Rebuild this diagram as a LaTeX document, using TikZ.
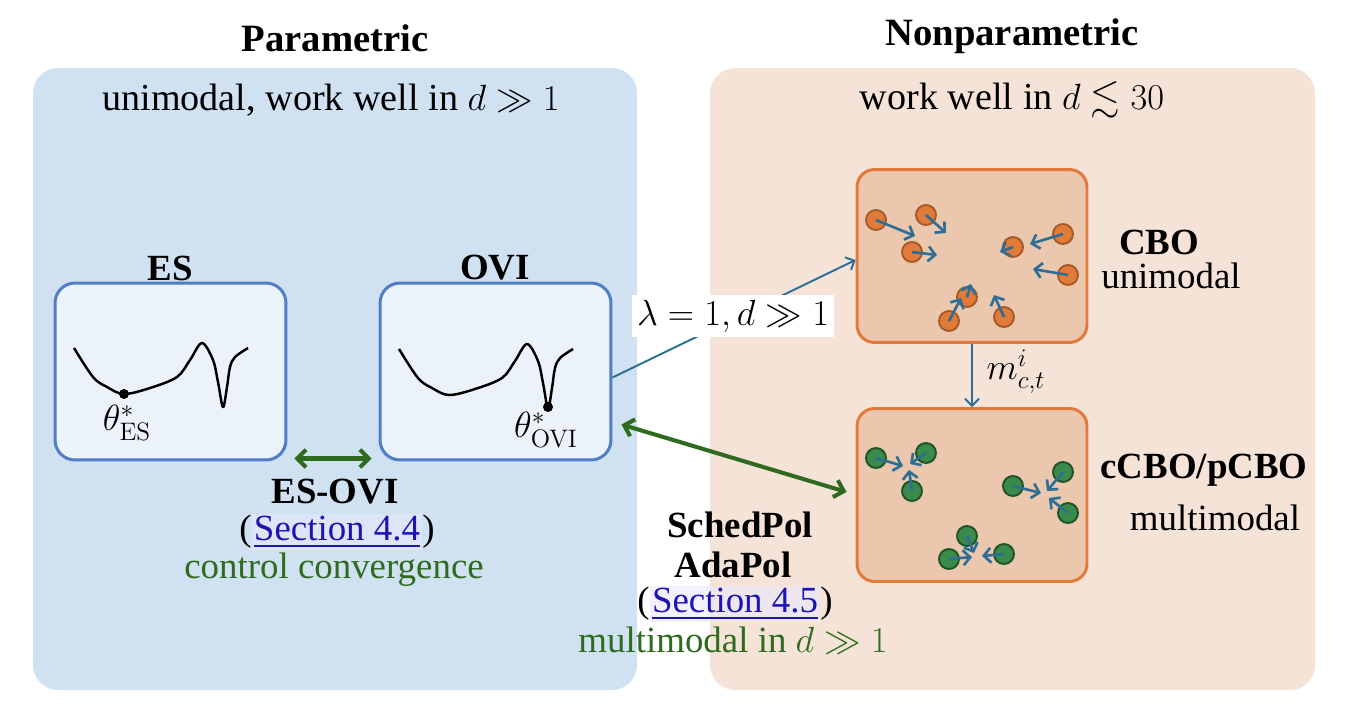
\documentclass[tikz,border=0pt]{standalone}
\usepackage{amssymb}
\usepackage[no-math]{fontspec}
\setmainfont{Liberation Serif}
\usetikzlibrary{arrows.meta}
\definecolor{pbg}{HTML}{D0E1F1}
\definecolor{obg}{HTML}{F5E3D7}
\definecolor{bbox}{HTML}{EBF2F9}
\definecolor{bbord}{HTML}{4F7EC6}
\definecolor{obox}{HTML}{EBC7AE}
\definecolor{obord}{HTML}{E07B3C}
\definecolor{conn}{HTML}{2E6E94}
\definecolor{grn}{HTML}{2E6B1E}
\definecolor{pOfill}{HTML}{E07B39}
\definecolor{pOdraw}{HTML}{A65A2A}
\definecolor{pGfill}{HTML}{3A8A4C}
\definecolor{pGdraw}{HTML}{1E5428}
\definecolor{linkc}{HTML}{1E14B0}
\definecolor{hl}{HTML}{E8E8FF}
\begin{document}
\begin{tikzpicture}[x=0.02cm,y=-0.02cm,
  font=\fontsize{21}{25}\selectfont,
  panel/.style={rounded corners=0.5cm},
  bluebox/.style={draw=bbord, fill=bbox, line width=1.7pt, rounded corners=0.4cm,
    minimum width=4.62cm, minimum height=3.54cm, inner sep=0pt},
  orangebox/.style={draw=obord, fill=obox, line width=1.7pt, rounded corners=0.35cm,
    minimum width=4.6cm, minimum height=3.46cm, inner sep=0pt},
  title/.style={font=\fontsize{22}{26}\selectfont\bfseries},
  bold/.style={font=\fontsize{21}{25}\selectfont\bfseries},
  sub/.style={font=\fontsize{21.7}{26}\selectfont},
  conarrow/.style={draw=conn, line width=1.1pt, -{Straight Barb[length=4pt,width=8pt]}},
  garrow/.style={draw=grn, line width=2.3pt,
    {Straight Barb[length=5pt,width=10pt]}-{Straight Barb[length=5pt,width=10pt]}},
  pO/.style={circle, fill=pOfill, draw=pOdraw, line width=1.1pt, minimum size=0.4cm, inner sep=0pt},
  pG/.style={circle, fill=pGfill, draw=pGdraw, line width=1.1pt, minimum size=0.4cm, inner sep=0pt},
  parrow/.style={draw=conn, line width=1.5pt, -{Straight Barb[length=4pt,width=8.5pt]}},
  seclink/.style={fill=hl, fill opacity=0.6, text opacity=1, text=linkc, inner sep=1pt},
  curve/.style={line width=1.4pt, line join=round}
]
\useasboundingbox (0,0) rectangle (1348,714);
% panels
\fill[pbg, panel] (33,68) rectangle (637,690);
\fill[obg, panel] (710,68) rectangle (1315,690);
% titles
\node[title] (tpar) at (335,38) {Parametric};
\node[title] (tnon) at (1012,36) {Nonparametric};
\node[sub] (spar) at (331,100) {unimodal, work well in $d\gg 1$};
\node[sub] (snon) at (1012,100) {work well in $d\lesssim 30$};
% ES / OVI boxes
\node[bluebox] (es) at (170.5,371.5) {};
\node[bluebox] (ovi) at (495.5,371.5) {};
\node[bold] (esl) at (170,268) {ES};
\node[bold] (ovil) at (495,268) {OVI};
\foreach \dx/\dy in {0/0, 325/1}{
  \draw[curve, shift={(\dx,\dy)}] plot[smooth, tension=0.55] coordinates {
    (74,348) (93,377) (107,387) (124,394) (150,388) (177,377) (190,360) (202,343)
    (213,360) (218,382) (223,407) (227,387) (230,367) (235,357) (248,348)};
}
\fill (124,394) circle (0.1cm);
\fill (548,407) circle (0.1cm);
\node (thes) at (127,423) {$\theta^*_{\mathrm{ES}}$};
\node (thovi) at (546,430) {$\theta^*_{\mathrm{OVI}}$};
% ES-OVI arrow & text
\draw[garrow] ([shift={(7,-3)}]es.south east) -- ([shift={(-7,-3)}]ovi.south west);
\node[bold] (esovi) at (335,492) {ES-OVI};
\node[seclink] (s44) at (337,532) {\underline{Section 4.4}};
\node[anchor=east, inner sep=0pt] (s44l) at (s44.west) {(};
\node[anchor=west, inner sep=0pt] (s44r) at (s44.east) {)};
\node[text=grn] (cc) at (334,570) {control convergence};
% CBO boxes
\node[orangebox] (cbo) at (972,256) {};
\node[orangebox] (ccbo) at (972,495) {};
\node[bold] (cbol) at (1159,242) {CBO};
\node (cbou) at (1171,276) {unimodal};
\node[bold] (ccbol) at (1204,470) {cCBO/pCBO};
\node (ccbom) at (1215,518) {multimodal};
% particles CBO
\foreach \cx/\cy in {876/220, 926/215, 912/252, 1013/247, 1063/234, 1068/275, 967/297, 949/321, 1004/317}
  \node[pO] at (\cx,\cy) {};
\foreach \cx/\cy/\tx/\ty in {876/220/915/236, 926/215/946/233, 912/252/937/255, 1013/247/1000/252,
   1063/234/1030/244, 1068/275/1033/269, 967/297/971/284, 949/321/961/298, 1004/317/994/295}
  \draw[parrow] (\cx,\cy) -- (\tx,\ty);
% particles cCBO
\foreach \cx/\cy in {876/458, 926/453, 912/491, 1013/486, 1063/472, 1068/513, 967/536, 949/559, 1004/554}
  \node[pG] at (\cx,\cy) {};
\foreach \cx/\cy/\tx/\ty in {876/458/903/466, 926/453/910/464, 912/491/909/470, 1013/486/1041/493,
   1063/472/1047/491, 1068/513/1049/498, 967/536/974/553, 949/559/972/557, 1004/554/982/556}
  \draw[parrow] (\cx,\cy) -- (\tx,\ty);
% connectors
\draw[conarrow] ([yshift=-0.12cm]ovi.east) -- ([yshift=-0.08cm]cbo.west);
\node[fill=white, inner sep=3pt] (lam) at (733,316) {$\lambda=1, d\gg 1$};
\draw[conarrow] (cbo.south) -- (ccbo.north);
\node[inner sep=1pt] (mlab) at (1016,372) {$m^i_{c,t}$};
\draw[garrow] ([shift={(9,-37)}]ovi.south east) -- ([shift={(-9,-3)}]ccbo.west);
% SchedPol text
\node[bold] (sp) at (740,525) {SchedPol};
\node[bold] (ap) at (733,565) {AdaPol};
\node[seclink] (s45) at (735,604) {\underline{Section 4.5}};
\node[anchor=east, inner sep=0pt] (s45l) at (s45.west) {(};
\node[anchor=west, inner sep=0pt] (s45r) at (s45.east) {)};
\node[text=grn] (mm) at (733,640) {multimodal in $d\gg 1$};
\end{tikzpicture}
\end{document}
